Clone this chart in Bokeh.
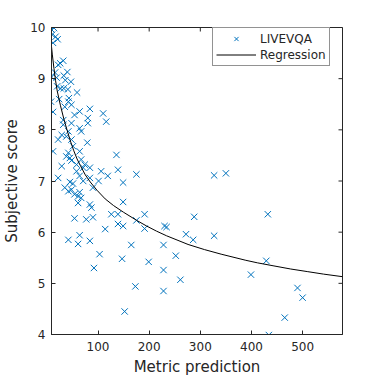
from bokeh.plotting import figure
from bokeh.models import Range1d, FixedTicker, Legend, LegendItem
from bokeh.embed import file_html
from bokeh.resources import INLINE

# Scatter data: metric prediction vs subjective score (LIVEVQA)
metric = [9, 14, 10, 17, 21, 12,
          26, 32, 22, 40, 16, 33, 19, 36, 9, 47, 27, 33, 41, 59, 20, 43, 24,
          8, 35, 48, 42, 84, 110, 116, 12, 54, 64, 80, 80, 32, 32, 48, 64, 67, 42, 29, 38, 22, 48, 79, 51,
          12, 64, 42, 136, 38, 45, 48, 67, 29, 74, 58, 71, 84, 58, 106, 139, 175, 119, 22, 64, 84,
          101, 149, 45, 51, 71, 327, 350,
          35, 48, 42, 64, 54, 61, 67, 90, 61, 84, 87, 149,
          54, 77, 90, 126, 139, 191, 139, 149, 175, 114, 191, 230, 234, 288,
          64, 272, 42, 84, 61, 165, 228, 327, 286, 103, 252,
          147, 199, 92, 228, 261, 173, 228, 152, 432, 429, 399, 490, 500, 465, 434]
score = [9.96, 9.99, 9.86, 9.82, 9.77, 9.70,
         9.30, 9.35, 9.27, 9.13, 9.12, 9.06, 9.02, 8.97, 9.03, 8.94, 8.81, 8.81, 8.79, 8.73, 8.85, 8.62, 8.60,
         8.55, 8.45, 8.49, 8.55, 8.41, 8.32, 8.16, 8.35, 8.29, 8.36, 8.23, 8.13, 8.19, 8.10, 8.13, 8.03, 7.97, 7.97, 7.90, 7.87, 7.81, 7.81, 7.75, 7.68,
         7.58, 7.58, 7.55, 7.51, 7.48, 7.45, 7.40, 7.42, 7.29, 7.32, 7.32, 7.26, 7.26, 7.19, 7.19, 7.22, 7.13, 7.10, 7.06, 7.10, 7.06,
         7.00, 6.97, 6.98, 6.95, 7.00, 7.11, 7.15,
         6.87, 6.83, 6.80, 6.78, 6.74, 6.70, 6.67, 6.87, 6.57, 6.54, 6.48, 6.59,
         6.27, 6.25, 6.29, 6.35, 6.35, 6.35, 6.16, 6.12, 6.23, 6.06, 6.07, 6.12, 6.10, 6.30,
         5.94, 5.96, 5.85, 5.83, 5.77, 5.75, 5.75, 5.93, 5.85, 5.57, 5.54,
         5.48, 5.42, 5.30, 5.26, 5.07, 4.94, 4.85, 4.45, 6.35, 5.44, 5.17, 4.91, 4.72, 4.33, 3.99]

# Regression curve
reg_x = [9.1, 10.5, 13.8, 17, 20.2, 26.6, 33.2, 39.6, 46, 52.6, 59, 65.5, 75.1, 84.8,
         97.9, 114, 130.3, 149.7, 175.6, 195, 214.4, 233.8, 276, 308, 340.7, 389, 412,
         444, 476.7, 509, 541, 578]
reg_y = [9.62, 9.48, 9.20, 8.96, 8.76, 8.47, 8.21, 7.99, 7.78, 7.59, 7.43, 7.30, 7.12, 6.98,
         6.82, 6.65, 6.52, 6.39, 6.23, 6.12, 6.02, 5.93, 5.76, 5.66, 5.57, 5.45, 5.40,
         5.34, 5.28, 5.23, 5.18, 5.13]

x_ticks = [100, 200, 300, 400, 500]
y_ticks = [4, 5, 6, 7, 8, 9, 10]
x_min, x_max = 9, 578
y_min, y_max = 4, 10

FONT = "DejaVu Sans"
AX = "#262626"
BLUE = "#0072BD"

p = figure(width=378, height=378, x_range=Range1d(x_min, x_max), y_range=Range1d(y_min, y_max),
           output_backend="svg", toolbar_location=None,
           min_border_left=49, min_border_right=36, min_border_top=27, min_border_bottom=42)
p.grid.visible = False
p.outline_line_color = AX
p.outline_line_width = 1
p.background_fill_color = "white"
p.border_fill_color = "white"

sc = p.scatter(metric, score, marker="x", size=9, line_color=BLUE, line_width=1)
ln = p.line(reg_x, reg_y, line_color="black", line_width=1)

# inward ticks on the top and right box edges (clipped to the frame)
p.scatter(x_ticks, [y_max] * len(x_ticks), marker="dash", angle=1.5708, size=8,
          line_color=AX, line_width=1)
p.scatter([x_max] * len(y_ticks), y_ticks, marker="dash", size=8,
          line_color=AX, line_width=1)

for ax, ticks in ((p.xaxis[0], x_ticks), (p.yaxis[0], y_ticks)):
    ax.ticker = FixedTicker(ticks=ticks)
    ax.major_tick_in = 4
    ax.major_tick_out = 0
    ax.minor_tick_line_color = None
    ax.axis_line_color = AX
    ax.major_tick_line_color = AX
    ax.major_label_text_font = FONT
    ax.major_label_text_font_size = "12px"
    ax.major_label_text_color = AX
    ax.axis_label_text_font = FONT
    ax.axis_label_text_font_size = "15px"
    ax.axis_label_text_font_style = "normal"
    ax.axis_label_text_color = AX

p.xaxis[0].axis_label = "Metric prediction"
p.yaxis[0].axis_label = "Subjective score"
p.xaxis[0].major_label_standoff = 7
p.xaxis[0].axis_label_standoff = 4
p.yaxis[0].major_label_standoff = 6
p.yaxis[0].axis_label_standoff = 6

legend = Legend(items=[LegendItem(label="LIVEVQA", renderers=[sc]),
                       LegendItem(label="Regression", renderers=[ln])],
                location=(161, 268))
legend.label_text_font = FONT
legend.label_text_font_size = "12px"
legend.label_text_color = AX
legend.border_line_color = AX
legend.border_line_width = 1
legend.background_fill_alpha = 1
legend.padding = 3
legend.spacing = 1
legend.margin = 0
legend.label_height = 15
legend.glyph_height = 15
legend.glyph_width = 40
legend.label_standoff = 4
p.add_layout(legend)

open("out.html", "w").write(file_html(p, INLINE))
